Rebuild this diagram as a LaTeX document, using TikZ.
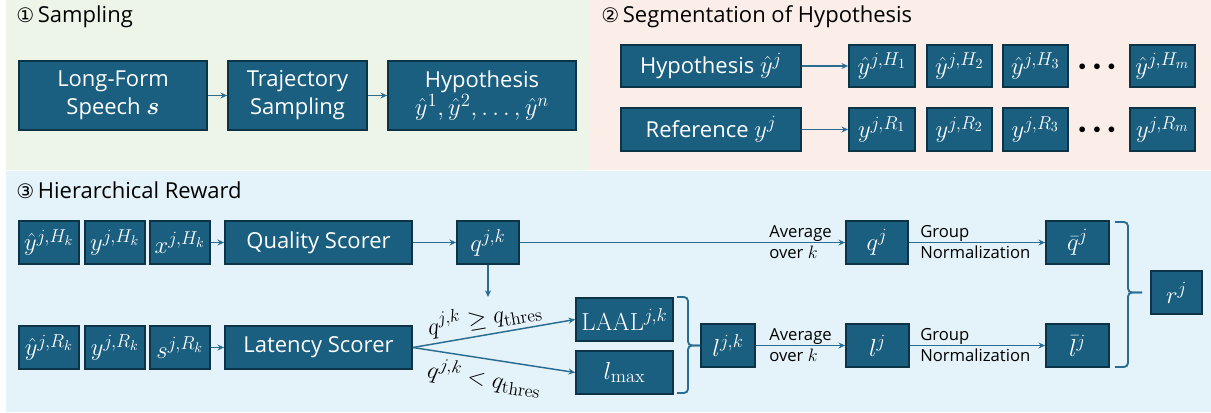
\RequirePackage{fix-cm}
\documentclass[tikz,border=0pt]{standalone}
\usepackage{amsmath}
\usepackage[no-math]{fontspec}
\setmainfont{Open Sans}
\newfontfamily\symf{DejaVu Sans}
\usetikzlibrary{arrows.meta}
\DeclareMathSizes{16.5}{18.5}{14}{10.5}
\DeclareMathSizes{17}{18}{13.5}{10}
\DeclareMathSizes{12.5}{13.5}{10}{8}
\definecolor{boxfill}{HTML}{1A5E80}
\definecolor{boxline}{HTML}{0D3346}
\definecolor{arrc}{HTML}{2B6D92}
\definecolor{bggreen}{HTML}{ECF5E8}
\definecolor{bgpink}{HTML}{FBEEE9}
\definecolor{bgblue}{HTML}{E4F3F9}
\begin{document}
\begin{tikzpicture}[x=0.75pt,y=-0.75pt,
 bx/.style={draw=boxline, line width=1.3pt, fill=boxfill, text=white, inner sep=0pt,
   font=\fontsize{16.5}{21}\selectfont, align=center},
 sz/.style 2 args={minimum width=#1*0.75pt, minimum height=#2*0.75pt},
 arr/.style={draw=arrc, line width=1.1pt, -{Stealth[length=5pt,width=4.5pt]}},
 brc/.style={draw=arrc, line width=1.4pt, rounded corners=3pt},
 ttl/.style={anchor=west, font=\fontsize{16.5}{20}\selectfont, inner sep=0pt},
 lbl/.style={anchor=west, align=left, font=\fontsize{12.5}{15.75}\selectfont, inner sep=0pt},
 cond/.style={font=\fontsize{17}{20}\selectfont, inner sep=1pt},
 dots/.style={font=\fontsize{11}{13}\selectfont}
]
% backgrounds
\fill[white] (0,0) rectangle (1211,412);
\fill[bggreen] (6,0) rectangle (589,170);
\fill[bgpink] (589,0) rectangle (1211,170);
\fill[bgblue] (6,171) rectangle (1211,412);
\useasboundingbox (0,0) rectangle (1211,412);

% titles
\node[ttl] (t1) at (16,17) {{\symf\fontsize{15}{16}\selectfont ①}\,Sampling};
\node[ttl] (t2) at (601,17) {{\symf\fontsize{15}{16}\selectfont ②}\,Segmentation of Hypothesis};
\node[ttl] (t3) at (16,190) {{\symf\fontsize{15}{16}\selectfont ③}\,Hierarchical Reward};

% 1 sampling
\node[bx, sz={188}{69}] (lf) at (113,95.5) {Long-Form\\Speech $\boldsymbol{s}$};
\node[bx, sz={139}{69}] (ts) at (297.5,95.5) {Trajectory\\Sampling};
\node[bx, sz={188}{69}] (hy) at (482,95.5) {Hypothesis\\$\hat{y}^1,\hat{y}^2,\ldots,\hat{y}^n$};
\draw[arr] (lf) -- (ts);
\draw[arr] (ts) -- (hy);

% 2 segmentation
\node[bx, sz={180}{42}] (hj) at (711,66) {Hypothesis $\hat{y}^j$};
\node[bx, sz={180}{43}] (rf) at (711,129.5) {Reference $y^j$};
\node[bx, sz={66}{42}] (h1) at (882,66) {$\hat{y}^{j,H_1}$};
\node[bx, sz={65}{42}] (h2) at (959.5,66) {$\hat{y}^{j,H_2}$};
\node[bx, sz={65}{42}] (h3) at (1035.5,66) {$\hat{y}^{j,H_3}$};
\node[bx, sz={65}{42}] (hm) at (1162.5,66) {$\hat{y}^{j,H_m}$};
\node[bx, sz={66}{43}] (r1) at (882,129.5) {$y^{j,R_1}$};
\node[bx, sz={65}{43}] (r2) at (959.5,129.5) {$y^{j,R_2}$};
\node[bx, sz={65}{43}] (r3) at (1035.5,129.5) {$y^{j,R_3}$};
\node[bx, sz={65}{43}] (rm) at (1162.5,129.5) {$y^{j,R_m}$};
\node[dots] (d1) at (1097,67) {$\bullet\;\bullet\;\bullet$};
\node[dots] (d2) at (1097,130.5) {$\bullet\;\bullet\;\bullet$};
\draw[arr] (hj) -- (h1);
\draw[arr] (rf) -- (r1);

% 3 hierarchical reward
\node[bx, sz={60}{43}] (a1) at (49,242.5) {$\hat{y}^{j,H_k}$};
\node[bx, sz={60}{43}] (a2) at (115,242.5) {$y^{j,H_k}$};
\node[bx, sz={60}{43}] (a3) at (180,242.5) {$x^{j,H_k}$};
\node[bx, sz={187}{43}] (qs) at (318.5,242.5) {Quality Scorer};
\node[bx, sz={60}{43}] (b1) at (49,347.5) {$\hat{y}^{j,R_k}$};
\node[bx, sz={60}{43}] (b2) at (115,347.5) {$y^{j,R_k}$};
\node[bx, sz={60}{43}] (b3) at (180,347.5) {$s^{j,R_k}$};
\node[bx, sz={187}{43}] (ls) at (318.5,347.5) {Latency Scorer};
\node[bx, sz={62}{43}] (qjk) at (488,242.5) {$q^{j,k}$};
\coordinate (qd) at (488,297);
\node[bx, sz={97}{43}] (laal) at (624.5,319.5) {$\mathrm{LAAL}^{j,k}$};
\node[bx, sz={97}{43}] (lmax) at (624.5,372.5) {$l_{\max}$};
\node[bx, sz={54}{43}] (ljk) at (728,345.5) {$l^{j,k}$};
\node[bx, sz={62}{43}] (qj) at (877,242.5) {$q^j$};
\node[bx, sz={63}{43}] (lj) at (877.5,345.5) {$l^j$};
\node[bx, sz={63}{43}] (qb) at (1077.5,242.5) {$\bar{q}^j$};
\node[bx, sz={63}{43}] (lb) at (1077.5,345.5) {$\bar{l}^j$};
\node[bx, sz={51}{43}] (rj) at (1176.5,292.5) {$r^j$};

\draw[arr] (a3) -- (qs);
\draw[arr] (b3) -- (ls);
\draw[arr] (qs) -- (qjk);
\draw[arr] (qjk) -- (qd);
\draw[arr] (ls.east) -- node[cond, sloped, above=2pt, pos=0.46] (c1) {$q^{j,k}\geq q_{\mathrm{thres}}$} (laal.west);
\draw[arr] (ls.east) -- node[cond, sloped, below=3pt, pos=0.46] (c2) {$q^{j,k}< q_{\mathrm{thres}}$} (lmax.west);
\draw[arr] (qjk) -- (qj);
\draw[arr] (ljk) -- (lj);
\draw[arr] (qj) -- (qb);
\draw[arr] (lj) -- (lb);

\node[lbl] (avg1) at (769,242.5) {Average\\over $k$};
\node[lbl] (avg2) at (769,345.5) {Average\\over $k$};
\node[lbl] (grp1) at (920,242.5) {Group\\Normalization};
\node[lbl] (grp2) at (920,345.5) {Group\\Normalization};

% braces
\draw[brc] (677,297) -| (688,345.5) -- (ljk.west);
\draw[brc] (677,393) -| (688,345.5) -- (ljk.west);
\coordinate (bt) at (1142,292.5);
\draw[brc] (1115,222) -| (1128,292.5) -- (bt);
\draw[brc] (1115,367) -| (1128,292.5) -- (bt);
\end{tikzpicture}
\end{document}
